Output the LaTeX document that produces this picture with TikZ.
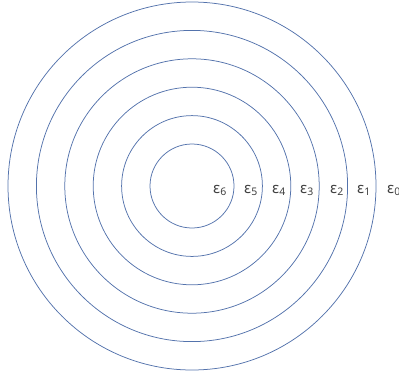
\documentclass[tikz,border=0pt]{standalone}
\usepackage{fontspec}
\setmainfont{Noto Sans}
\usepackage{xcolor}
\usetikzlibrary{positioning}

\definecolor{ringblue}{RGB}{84,115,172}

\begin{document}
\begin{tikzpicture}[
  x=1pt, y=-1pt,
  ring/.style={draw=ringblue, line width=0.75pt},
  eps/.style={anchor=base west, inner sep=0pt, text=black!75,
              font=\fontsize{15}{15}\selectfont},
]
\useasboundingbox (0,0) rectangle (399,376);

% ============ rings ========================================================
\coordinate (ctr) at (192,186);
\foreach \r in {184,155.6,127.2,98.8,70.4,42}
  \draw[ring] (ctr) circle[radius=\r];

% ============ labels, inside out ===========================================
\node[eps] (e6) at (213,193) {ε\textsubscript{6}};
\node[eps] (e5) at (244,193) {ε\textsubscript{5}};
\node[eps] (e4) at (272,193) {ε\textsubscript{4}};
\node[eps] (e3) at (300,193) {ε\textsubscript{3}};
\node[eps] (e2) at (330,193) {ε\textsubscript{2}};
\node[eps] (e1) at (357,193) {ε\textsubscript{1}};
\node[eps] (e0) at (387,193) {ε\textsubscript{0}};

\end{tikzpicture}
\end{document}
